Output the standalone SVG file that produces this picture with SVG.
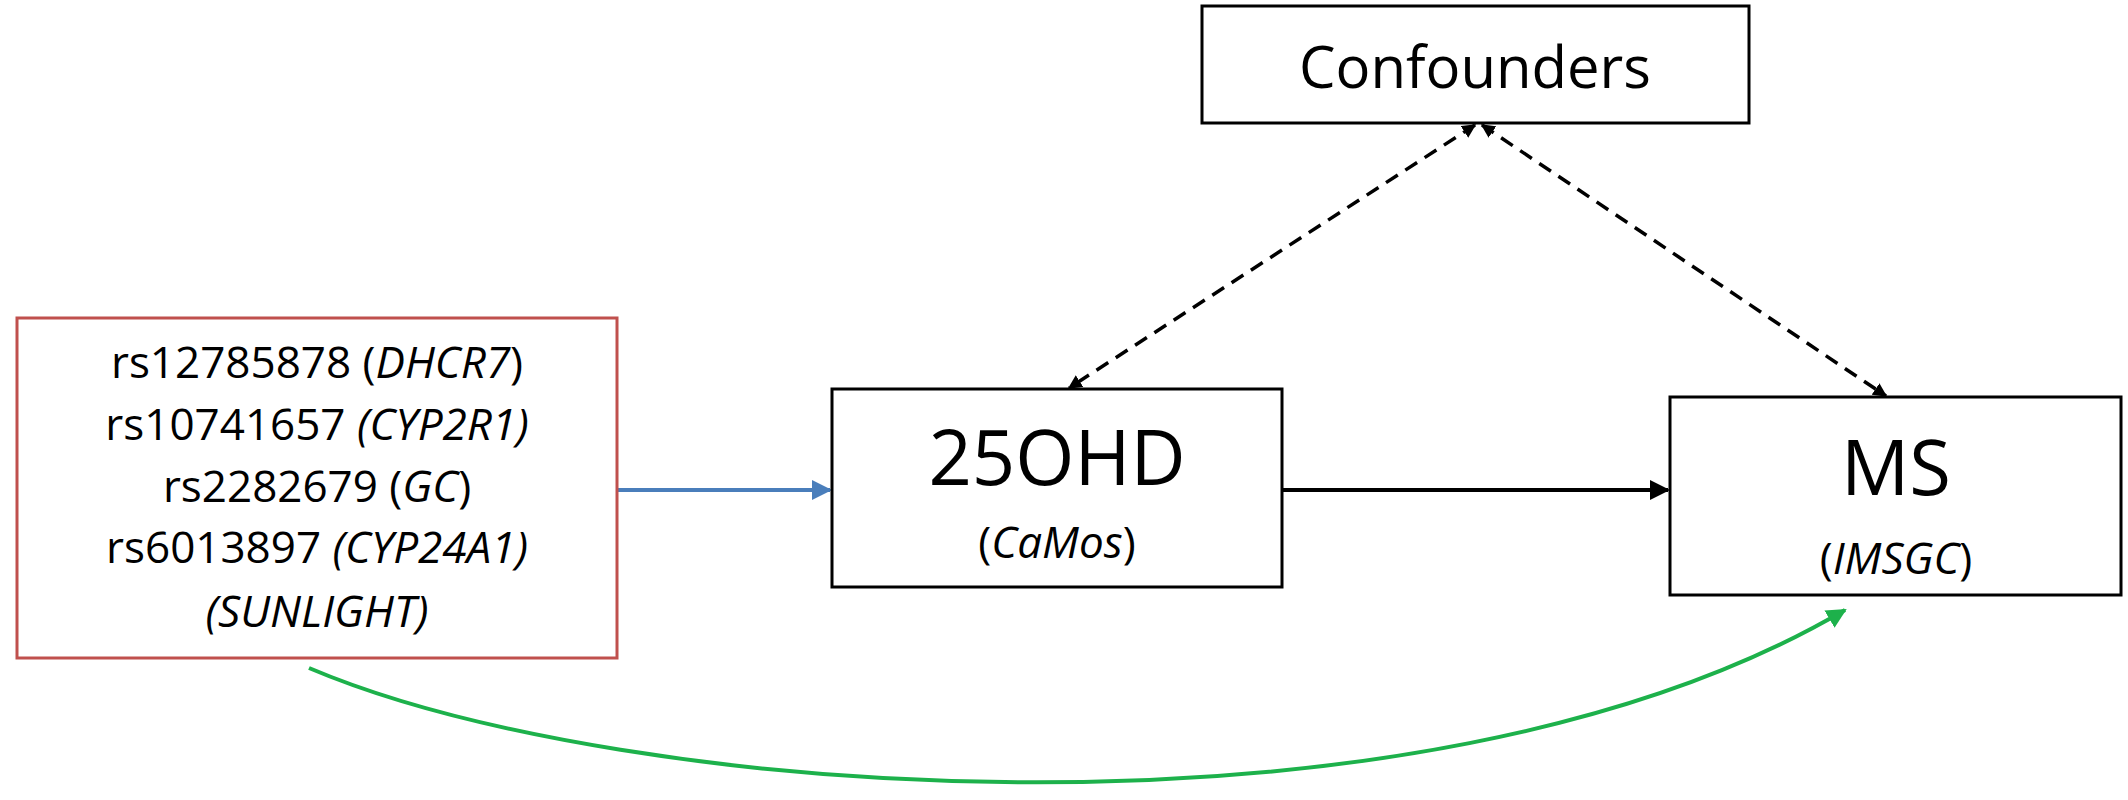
<svg xmlns="http://www.w3.org/2000/svg" width="2128" height="800" viewBox="0 0 2128 800">
<style>
text{font-family:"Open Sans","Liberation Sans",sans-serif;text-anchor:middle;fill:#000}
.box{fill:#fff;stroke:#000;stroke-width:3}
.it{font-style:italic}
</style>
<defs>
<marker id="ab" viewBox="0 0 10 10" refX="9" refY="5" markerWidth="5" markerHeight="5" orient="auto"><path d="M0,0L10,5L0,10z" fill="#000"/></marker>
<marker id="au" viewBox="0 0 10 10" refX="9" refY="5" markerWidth="5" markerHeight="5" orient="auto"><path d="M0,0L10,5L0,10z" fill="#4a7ebb"/></marker>
<marker id="ag" viewBox="0 0 10 10" refX="9" refY="5" markerWidth="5" markerHeight="5" orient="auto"><path d="M0,0L10,5L0,10z" fill="#1db14b"/></marker>
<marker id="ad" viewBox="0 0 10 10" refX="9" refY="5" markerWidth="4" markerHeight="4" orient="auto-start-reverse"><path d="M0,0L10,5L0,10z" fill="#000"/></marker>
</defs>
<rect width="2128" height="800" fill="#fff"/>
<g id="connectors" fill="none">
<line x1="617" y1="490" x2="830" y2="490" stroke="#4a7ebb" stroke-width="4" marker-end="url(#au)"/>
<line x1="1283" y1="490" x2="1668" y2="490" stroke="#000" stroke-width="4" marker-end="url(#ab)"/>
<line x1="1475" y1="125" x2="1069" y2="388" stroke="#000" stroke-width="3.5" stroke-dasharray="14,9" marker-start="url(#ad)" marker-end="url(#ad)"/>
<line x1="1482" y1="125" x2="1886" y2="396" stroke="#000" stroke-width="3.5" stroke-dasharray="14,9" marker-start="url(#ad)" marker-end="url(#ad)"/>
<path d="M309,668 C620,800 1420,860 1845,610" stroke="#1db14b" stroke-width="4" marker-end="url(#ag)"/>
</g>
<g id="snps">
<rect x="17" y="318" width="600" height="340" fill="#fff" stroke="#c0504d" stroke-width="3"/>
<g font-size="44">
<text x="317" y="378">rs12785878 (<tspan class="it">DHCR7</tspan>)</text>
<text x="317" y="440">rs10741657 <tspan class="it">(CYP2R1)</tspan></text>
<text x="317" y="502">rs2282679 (<tspan class="it">GC</tspan>)</text>
<text x="317" y="563">rs6013897 <tspan class="it">(CYP24A1)</tspan></text>
<text x="317" y="627" class="it">(SUNLIGHT)</text>
</g>
</g>
<g id="ohd">
<rect class="box" x="832" y="389" width="450" height="198"/>
<text x="1057" y="485" font-size="76">25OHD</text>
<text x="1057" y="558" font-size="44">(<tspan class="it">CaMos</tspan>)</text>
</g>
<g id="ms">
<rect class="box" x="1670" y="397" width="451" height="198"/>
<text x="1896" y="495" font-size="76">MS</text>
<text x="1896" y="574" font-size="44">(<tspan class="it">IMSGC</tspan>)</text>
</g>
<g id="confounders">
<rect class="box" x="1202" y="6" width="547" height="117"/>
<text x="1475" y="88" font-size="58">Confounders</text>
</g>
</svg>
